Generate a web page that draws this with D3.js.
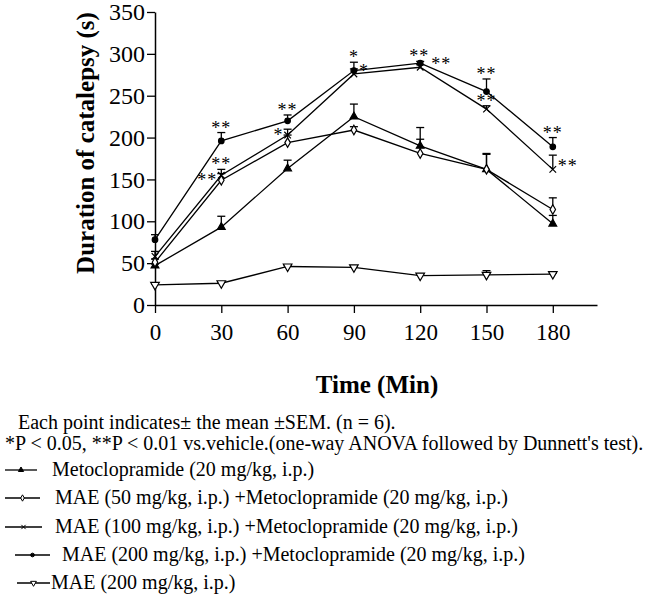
<!DOCTYPE html>
<html>
<head>
<meta charset="utf-8">
<script src="https://cdn.jsdelivr.net/npm/d3@7"></script>
<style>
  html, body { margin: 0; padding: 0; background: #fff; }
  svg { display: block; }
  text { font-family: "Liberation Serif", "Times New Roman", Times, serif; fill: #000; }
</style>
</head>
<body>
<svg id="chart" width="657" height="603"></svg>
<script>
// ---------- data ----------
const times = [0, 30, 60, 90, 120, 150, 180];
const xTicks = [0, 30, 60, 90, 120, 150, 180];
const yTicks = [0, 50, 100, 150, 200, 250, 300, 350];

const seriesNames = [
  "Metoclopramide (20 mg/kg, i.p.)",
  "MAE (50 mg/kg, i.p.) +Metoclopramide (20 mg/kg, i.p.)",
  "MAE (100 mg/kg, i.p.) +Metoclopramide (20 mg/kg, i.p.)",
  "MAE (200 mg/kg, i.p.) +Metoclopramide (20 mg/kg, i.p.)",
  "MAE (200 mg/kg, i.p.)"
];
const metoMean   = [47, 93, 163, 225, 190, 162, 97];
const metoSem    = [2, 13, 10, 15, 22, 18, 10];
const mae50Mean  = [51, 149, 194, 209, 181, 162, 114];
const mae50Sem   = [4, 8, 9, 4, 17, 19, 14];
const mae100Mean = [58, 155, 203, 276, 284, 234, 162];
const mae100Sem  = [6, 7, 7, 6, 3, 4, 17];
const mae200mMean = [78, 196, 220, 280, 289, 255, 189];
const mae200mSem  = [6, 10, 7, 10, 2, 15, 11];
const mae200Mean = [24, 26, 46, 45, 35, 36, 37];
const mae200Sem  = [1, 1, 1, 1, 1, 5, 1];

// significance marks: series index, time index, label, side of the point
const sigSeries = [3, 2, 1, 3, 2, 3, 2, 3, 2, 3, 2, 3, 2];
const sigTime   = [1, 1, 1, 2, 2, 3, 3, 4, 4, 5, 5, 6, 6];
const sigText   = ["**", "**", "**", "**", "*", "*", "*", "**", "**", "**", "**", "**", "**"];
const sigSide   = ["top", "top", "left", "top", "left", "top", "right", "top", "right", "top", "top", "top", "right"];

const footLines = [
  "*P < 0.05, **P < 0.01 vs.vehicle.(one-way ANOVA followed by Dunnett's test)."
];

// ---------- style ----------
// small horizontal nudges for individual asterisk labels (pixels)
const sigNudge = [0, 0, 0, 0, 0, 0, 0, -1, 6, 0, 0, 0, 0];

// ---------- build ----------
const means = [metoMean, mae50Mean, mae100Mean, mae200mMean, mae200Mean];
const sems  = [metoSem, mae50Sem, mae100Sem, mae200mSem, mae200Sem];
const symbols = [
  { type: d3.symbolTriangle, size: 26, fill: "#000", rot: 0 },
  { type: d3.symbolDiamond, size: 26, fill: "#fff", rot: 0 },
  { type: d3.symbolTimes, size: 30, fill: "none", rot: 0 },
  { type: d3.symbolCircle, size: 24, fill: "#000", rot: 0 },
  { type: d3.symbolTriangle, size: 32, fill: "#fff", rot: 180 }
];
const series = seriesNames.map((name, i) => ({
  name, sym: symbols[i],
  pts: times.map((t, j) => ({ t, v: means[i][j], e: sems[i][j] }))
}));

const svg = d3.select("#chart");
const x = d3.scaleLinear().domain([0, 200]).range([155, 597]);
const y = d3.scaleLinear().domain([0, 350]).range([305, 12]);
const FONT = "Liberation Serif, Times New Roman, serif";

// axes
const gx = svg.append("g").attr("transform", `translate(0,${y(0)})`)
  .call(d3.axisBottom(x).tickValues(xTicks).tickSize(8).tickSizeOuter(0).tickPadding(11).tickFormat(d3.format("d")));
gx.attr("font-family", FONT);
gx.select(".domain").attr("stroke", "#000").attr("stroke-width", 1.5);
gx.selectAll(".tick line").attr("stroke", "#000").attr("stroke-width", 1.3);
gx.selectAll(".tick text").attr("font-size", 23).attr("fill", "#000");

const gy = svg.append("g").attr("transform", `translate(${x(0)},0)`)
  .call(d3.axisLeft(y).tickValues(yTicks).tickSize(8).tickSizeOuter(0).tickPadding(2).tickFormat(d3.format("d")));
gy.attr("font-family", FONT);
gy.select(".domain").attr("stroke", "#000").attr("stroke-width", 1.5);
gy.selectAll(".tick line").attr("stroke", "#000").attr("stroke-width", 1.3);
gy.selectAll(".tick text").attr("font-size", 24).attr("fill", "#000");

// axis titles
svg.append("text").attr("transform", "translate(94,143) rotate(-90)")
  .attr("text-anchor", "middle").attr("font-size", 25).attr("font-weight", "bold")
  .text("Duration of catalepsy (s)");
svg.append("text").attr("x", 377).attr("y", 393)
  .attr("text-anchor", "middle").attr("font-size", 25).attr("font-weight", "bold")
  .text("Time (Min)");

// lines
const line = d3.line().x(d => x(d.t)).y(d => y(d.v));
svg.append("g").selectAll("path").data(series).join("path")
  .attr("d", d => line(d.pts)).attr("fill", "none").attr("stroke", "#000").attr("stroke-width", 1.3);

// error bars (upper only)
const eg = svg.append("g").attr("stroke", "#000").attr("stroke-width", 1.3);
series.forEach(s => {
  s.pts.forEach(p => {
    eg.append("line").attr("x1", x(p.t)).attr("x2", x(p.t)).attr("y1", y(p.v)).attr("y2", y(p.v + p.e));
    eg.append("line").attr("x1", x(p.t) - 4).attr("x2", x(p.t) + 4).attr("y1", y(p.v + p.e)).attr("y2", y(p.v + p.e));
  });
});

// markers
series.forEach(s => {
  const sym = d3.symbol().type(s.sym.type).size(s.sym.size);
  svg.append("g").selectAll("path").data(s.pts).join("path")
    .attr("d", sym)
    .attr("transform", d => `translate(${x(d.t)},${y(d.v)}) rotate(${s.sym.rot})`)
    .attr("fill", s.sym.fill).attr("stroke", "#000").attr("stroke-width", 1.2);
});

// significance asterisks
sigText.forEach((txt, k) => {
  const s = series[sigSeries[k]];
  const p = s.pts[sigTime[k]];
  const px = x(p.t) + sigNudge[k], py = y(p.v), cy = y(p.v + p.e);
  const side = sigSide[k];
  const t = svg.append("text").attr("font-size", 18).attr("letter-spacing", 1).text(txt);
  if (side === "top") {
    t.attr("x", px).attr("y", cy + 1).attr("text-anchor", "middle");
  } else if (side === "left") {
    t.attr("x", px - 4).attr("y", py + 6).attr("text-anchor", "end");
  } else {
    t.attr("x", px + 5).attr("y", py + 3).attr("text-anchor", "start");
  }
});

// footnotes
svg.append("text").attr("x", 18).attr("y", 429).attr("font-size", 20)
  .text("Each point indicates± the mean ±SEM. (n = 6).");
svg.append("text").attr("x", 5).attr("y", 450).attr("font-size", 20).text(footLines[0]);

// legend
const legY = [476, 504, 533, 561, 589];
const legLineX0 = [5, 5, 5, 15, 17];
const legLineX1 = [37, 40, 42, 50, 50];
const legTextX = [52, 55, 55, 62, 51];
series.forEach((s, i) => {
  const g = svg.append("g");
  const ly = legY[i] - 6;
  g.append("line").attr("x1", legLineX0[i]).attr("x2", legLineX1[i]).attr("y1", ly).attr("y2", ly)
    .attr("stroke", "#000").attr("stroke-width", 1.3);
  const cx = (legLineX0[i] + legLineX1[i]) / 2;
  g.append("path").attr("d", d3.symbol().type(s.sym.type).size(s.sym.size * 0.45))
    .attr("transform", `translate(${cx},${ly}) rotate(${s.sym.rot})`)
    .attr("fill", s.sym.fill).attr("stroke", "#000").attr("stroke-width", 1);
  g.append("text").attr("x", legTextX[i]).attr("y", legY[i]).attr("font-size", 20).text(s.name);
});
</script>
</body>
</html>
